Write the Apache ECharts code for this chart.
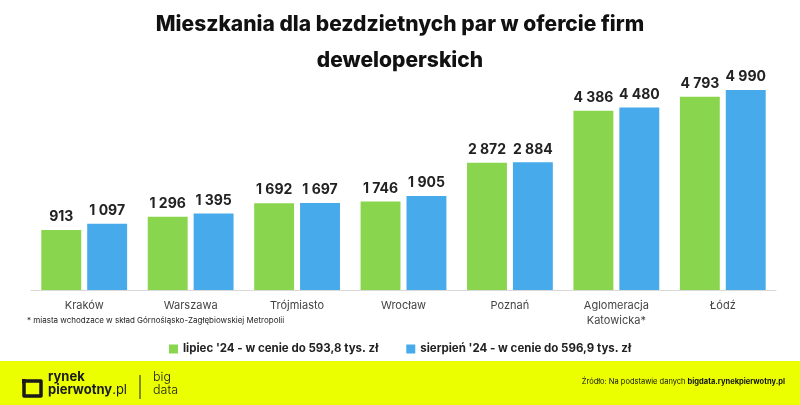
<!DOCTYPE html>
<html>
<head>
<meta charset="utf-8">
<script src="https://cdn.jsdelivr.net/npm/echarts@6/dist/echarts.min.js"></script>
<style>html,body{margin:0;padding:0;background:#fff}#c{width:800px;height:405px}</style>
</head>
<body>
<div id="c"></div>
<script>
const categories = ['Kraków', 'Warszawa', 'Trójmiasto', 'Wrocław', 'Poznań', 'Aglomeracja\nKatowicka*', 'Łódź'];
const july = [913, 1296, 1692, 1746, 2872, 4386, 4793];
const august = [1097, 1395, 1697, 1905, 2884, 4480, 4990];
const seriesNames = ["lipiec '24 - w cenie do 593,8 tys. zł", "sierpień '24 - w cenie do 596,9 tys. zł"];
const axisMin = -834; // the chart's value axis starts below zero; bars rise from the axis bottom
const axisMax = 5166;

const FONT = 'Inter, "Noto Sans", sans-serif';
const GREEN = '#89D54E', BLUE = '#47AAEA';
const BAR_FRAC = 0.375, GAP_FRAC = 0.15;
const fmt = v => String(v).replace(/\B(?=(\d{3})+(?!\d))/g, ' ');

function barRenderer(seriesIdx, color) {
  return function (params, api) {
    const i = api.value(0), v = api.value(1);
    const topPt = api.coord([i, v]);
    const basePt = api.coord([i, axisMin]);
    const band = api.size([1, 0])[0];
    const bw = band * BAR_FRAC, gap = bw * GAP_FRAC;
    const cx = topPt[0] + (seriesIdx === 0 ? -(gap / 2 + bw / 2) : (gap / 2 + bw / 2));
    return {
      type: 'rect',
      shape: {x: cx - bw / 2, y: topPt[1], width: bw, height: basePt[1] - topPt[1]},
      style: {fill: color},
      textContent: {
        style: {text: fmt(v), fontFamily: FONT, fontWeight: 'bold', fontSize: 14, fill: '#222'}
      },
      textConfig: {position: 'top', distance: 6}
    };
  };
}

const chart = echarts.init(document.getElementById('c'), null, {renderer: 'canvas'});
chart.setOption({
  backgroundColor: '#fff',
  animation: false,
  title: {
    text: 'Mieszkania dla bezdzietnych par w ofercie firm\ndeweloperskich',
    left: 'center', top: 2,
    textStyle: {fontFamily: FONT, fontWeight: 800, fontSize: 21, color: '#111', lineHeight: 36}
  },
  legend: {
    data: seriesNames,
    top: 338, left: 'center', itemWidth: 9, itemHeight: 9, itemGap: 28,
    icon: 'rect',
    textStyle: {fontFamily: FONT, fontWeight: 'bold', fontSize: 11.5, color: '#222'}
  },
  grid: {left: 31, right: 24, top: 84, bottom: 115},
  xAxis: {
    type: 'category', data: categories,
    axisLine: {show: true, onZero: false, lineStyle: {color: '#d9d9d9', width: 1}},
    axisTick: {show: false},
    axisLabel: {fontFamily: FONT, fontSize: 11, color: '#444', margin: 8, lineHeight: 15, interval: 0}
  },
  yAxis: {
    type: 'value', min: axisMin, max: axisMax,
    show: false, splitLine: {show: false}
  },
  series: [
    {name: seriesNames[0], type: 'custom', renderItem: barRenderer(0, GREEN), itemStyle: {color: GREEN},
      encode: {x: 0, y: 1}, data: july.map((v, i) => [i, v])},
    {name: seriesNames[1], type: 'custom', renderItem: barRenderer(1, BLUE), itemStyle: {color: BLUE},
      encode: {x: 0, y: 1}, data: august.map((v, i) => [i, v])}
  ],
  graphic: [
    {type: 'text', left: 27, top: 317, style: {text: '* miasta wchodzace w skład Górnośląsko-Zagłębiowskiej Metropolii', fontFamily: FONT, fontSize: 8, fill: '#222'}},
    {type: 'rect', left: 0, top: 361, shape: {width: 800, height: 44}, style: {fill: '#EBFF00'}, z: 0},
    {type: 'polyline', shape: {points: [[24, 381], [41, 381], [41, 396], [24, 396], [24, 381]]}, style: {stroke: '#1a1a1a', lineWidth: 3.5, fill: null, lineJoin: 'round'}, z: 2},
    {type: 'polygon', shape: {points: [[22, 379], [26, 379], [22, 384]]}, style: {fill: '#1a1a1a'}, z: 2},
    {type: 'text', left: 48, top: 371, style: {text: 'rynek', fontFamily: FONT, fontWeight: 'bold', fontSize: 13, fill: '#1a1a1a'}, z: 2},
    {type: 'text', left: 48, top: 384, style: {rich: {a: {fontFamily: FONT, fontWeight: 'bold', fontSize: 13, fill: '#1a1a1a'}, b: {fontFamily: FONT, fontSize: 13, fill: '#1a1a1a'}}, text: '{a|pierwotny}{b|.pl}'}, z: 2},
    {type: 'line', shape: {x1: 140, y1: 375, x2: 140, y2: 399}, style: {stroke: '#1a1a1a', lineWidth: 1}, z: 2},
    {type: 'text', left: 153, top: 371, style: {text: 'big\ndata', fontFamily: FONT, fontWeight: 300, fontSize: 12.5, lineHeight: 13, fill: '#1a1a1a'}, z: 2},
    {type: 'text', right: 15, top: 378, style: {rich: {a: {fontFamily: FONT, fontSize: 7.5, fill: '#111'}, b: {fontFamily: FONT, fontWeight: 'bold', fontSize: 7.5, fill: '#111'}}, text: '{a|Źródło: Na podstawie danych }{b|bigdata.rynekpierwotny.pl}'}, z: 2}
  ]
});
</script>
</body>
</html>
